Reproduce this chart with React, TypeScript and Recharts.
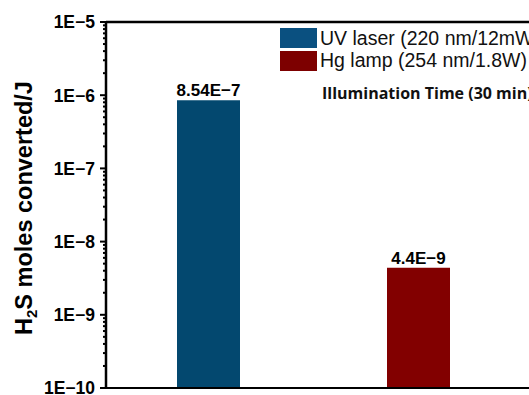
import React from "react";
import { BarChart, Bar, XAxis, YAxis, Cell, LabelList, Legend } from "recharts";

const sources = ["UV laser (220 nm/12mW)", "Hg lamp (254 nm/1.8W)"];
const molesPerJoule = [8.54e-7, 4.4e-9];
const valueLabels = ["8.54E\u22127", "4.4E\u22129"];
const barColors = ["#03486f", "#820000"];
const legendColors = ["#0a5080", "#7d0000"];

const majorTicks = [1e-10, 1e-9, 1e-8, 1e-7, 1e-6, 1e-5];
const majorLabels = ["1E\u221210", "1E\u22129", "1E\u22128", "1E\u22127", "1E\u22126", "1E\u22125"];
const minorSteps = [2, 3, 4, 5, 6, 7, 8, 9];

const data = sources.map((name, i) => ({
  name,
  value: molesPerJoule[i],
  label: valueLabels[i],
}));

const minorTicks: number[] = [];
majorTicks.slice(0, -1).forEach((d) => minorSteps.forEach((m) => minorTicks.push(d * m)));
const allTicks = [...majorTicks, ...minorTicks];

const font = "'Liberation Sans', Arial, sans-serif";

function YTick(props: any) {
  const { x, y, payload } = props;
  const idx = majorTicks.findIndex((t) => Math.abs(t - payload.value) / t < 1e-6);
  const major = idx >= 0;
  return (
    <g>
      <line x1={x} x2={x - (major ? 6 : 3)} y1={y} y2={y} stroke="#000" strokeWidth={2} />
      {major && (
        <text x={x - 11} y={y} dy="0.36em" textAnchor="end" fontSize={17.5} fontWeight="bold" fontFamily={font} fill="#000">
          {majorLabels[idx]}
        </text>
      )}
    </g>
  );
}

function YLabel() {
  return (
    <text
      x={32}
      y={208}
      transform="rotate(-90 32 208)"
      textAnchor="middle"
      fontSize={23.5}
      fontWeight="bold"
      fontFamily={font}
      fill="#000"
    >
      <tspan>H</tspan>
      <tspan fontSize={15} dy={5}>2</tspan>
      <tspan dy={-5}>S moles converted/J</tspan>
    </text>
  );
}

function LegendBox() {
  return (
    <div style={{ fontFamily: font, whiteSpace: "nowrap" }}>
      {sources.map((s, i) => (
        <div key={s} style={{ display: "flex", alignItems: "center", height: 22.5 }}>
          <div style={{ width: 37, height: 20, background: legendColors[i], marginRight: 3 }} />
          <span style={{ fontSize: 19.5, color: "#111" }}>{s}</span>
        </div>
      ))}
      <div
        style={{
          marginTop: 10,
          marginLeft: 42,
          fontFamily: "'Open Sans', sans-serif",
          fontWeight: 700,
          fontSize: 16,
          color: "#111",
        }}
      >
        Illumination Time (30 min)
      </div>
    </div>
  );
}

export default function App() {
  return (
    <div style={{ position: "fixed", left: 0, top: 0, width: 529, height: 395, overflow: "hidden", background: "#fff" }}>
      <BarChart width={560} height={420} data={data} margin={{ top: 21, right: 24, left: 0, bottom: 31 }}>
        <XAxis
          dataKey="name"
          height={1}
          tick={false}
          tickLine={false}
          axisLine={{ stroke: "#000", strokeWidth: 2 }}
          padding={{ left: -3, right: 13 }}
        />
        <XAxis
          xAxisId="top"
          orientation="top"
          dataKey="name"
          height={1}
          tick={false}
          tickLine={false}
          axisLine={{ stroke: "#000", strokeWidth: 2.5 }}
        />
        <YAxis
          width={106}
          scale="log"
          domain={[1e-10, 1e-5]}
          ticks={allTicks}
          interval={0}
          allowDataOverflow
          tickSize={0}
          tickMargin={0}
          tick={<YTick />}
          tickLine={false}
          axisLine={{ stroke: "#000", strokeWidth: 2.5 }}
          label={<YLabel />}
        />
        <Legend
          layout="vertical"
          align="center"
          verticalAlign="middle"
          content={<LegendBox />}
          wrapperStyle={{ position: "absolute", left: 280, top: 27, width: 320 }}
        />
        <Bar dataKey="value" barSize={63} isAnimationActive={false}>
          {data.map((d, i) => (
            <Cell key={d.name} fill={barColors[i]} />
          ))}
          <LabelList
            dataKey="label"
            position="top"
            offset={4}
            fontSize={17}
            fontWeight="bold"
            fontFamily={font}
            fill="#000"
          />
        </Bar>
      </BarChart>
    </div>
  );
}
